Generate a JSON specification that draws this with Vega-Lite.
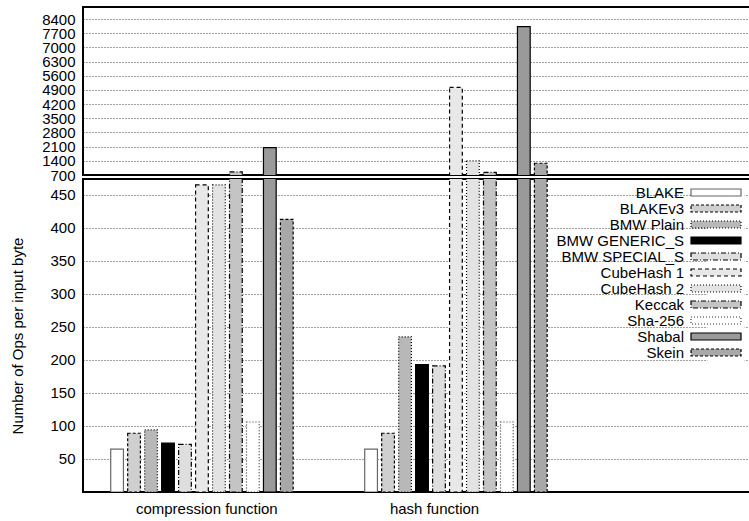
{
  "$schema": "https://vega.github.io/schema/vega-lite/v6.json",
  "padding": {"left": 9, "top": 6, "right": 0, "bottom": 0},
  "background": "white",
  "spacing": 4,
  "bounds": "flush",
  "config": {
    "font": "Liberation Sans",
    "view": {"stroke": "black", "strokeWidth": 2},
    "axis": {
      "labelFont": "Liberation Sans", "labelFontSize": 15, "labelColor": "black",
      "titleFont": "Liberation Sans", "titleFontSize": 15, "titleFontWeight": "normal", "titleColor": "black",
      "grid": true, "gridColor": "black", "gridDash": [1, 2], "gridWidth": 1, "gridOpacity": 0.75,
      "ticks": false, "domain": false, "labelPadding": 8, "labelOverlap": false
    }
  },
  "data": {"values": [
    {"group": "compression function", "series": "BLAKE", "value": 65},
    {"group": "compression function", "series": "BLAKEv3", "value": 89},
    {"group": "compression function", "series": "BMW Plain", "value": 94},
    {"group": "compression function", "series": "BMW GENERIC_S", "value": 74},
    {"group": "compression function", "series": "BMW SPECIAL_S", "value": 72},
    {"group": "compression function", "series": "CubeHash 1", "value": 465},
    {"group": "compression function", "series": "CubeHash 2", "value": 465},
    {"group": "compression function", "series": "Keccak", "value": 850},
    {"group": "compression function", "series": "Sha-256", "value": 106},
    {"group": "compression function", "series": "Shabal", "value": 2050},
    {"group": "compression function", "series": "Skein", "value": 413},
    {"group": "hash function", "series": "BLAKE", "value": 65},
    {"group": "hash function", "series": "BLAKEv3", "value": 89},
    {"group": "hash function", "series": "BMW Plain", "value": 235},
    {"group": "hash function", "series": "BMW GENERIC_S", "value": 193},
    {"group": "hash function", "series": "BMW SPECIAL_S", "value": 191},
    {"group": "hash function", "series": "CubeHash 1", "value": 5030},
    {"group": "hash function", "series": "CubeHash 2", "value": 1400},
    {"group": "hash function", "series": "Keccak", "value": 830},
    {"group": "hash function", "series": "Sha-256", "value": 106},
    {"group": "hash function", "series": "Shabal", "value": 8030},
    {"group": "hash function", "series": "Skein", "value": 1280}
  ]},
  "resolve": {"scale": {"fill": "independent", "stroke": "independent", "strokeDash": "independent"}},
  "vconcat": [
    {
      "width": 668, "height": 168,
      "mark": {"type": "bar", "clip": true, "strokeWidth": 1.2},
      "encoding": {
        "x": {"field": "group", "type": "nominal", "scale": {"paddingInner": 0.265, "paddingOuter": 0.4475, "align": 0.1126}, "axis": null},
        "xOffset": {"field": "series", "type": "nominal", "scale": {"domain": ["BLAKE", "BLAKEv3", "BMW Plain", "BMW GENERIC_S", "BMW SPECIAL_S", "CubeHash 1", "CubeHash 2", "Keccak", "Sha-256", "Shabal", "Skein"], "paddingInner": 0.25, "paddingOuter": 0.125}},
        "y": {"field": "value", "type": "quantitative", "scale": {"domain": [700, 9000], "nice": false, "zero": false}, "axis": {"values": [700, 1400, 2100, 2800, 3500, 4200, 4900, 5600, 6300, 7000, 7700, 8400], "format": "d", "title": null}},
        "fill": {"field": "series", "type": "nominal", "legend": null, "scale": {"domain": ["BLAKE", "BLAKEv3", "BMW Plain", "BMW GENERIC_S", "BMW SPECIAL_S", "CubeHash 1", "CubeHash 2", "Keccak", "Sha-256", "Shabal", "Skein"], "range": ["#ffffff", "#cfcfcf", "#b8b8b8", "#000000", "#dedede", "#e8e8e8", "#e3e3e3", "#c4c4c4", "#ffffff", "#9a9a9a", "#a8a8a8"]}},
        "stroke": {"field": "series", "type": "nominal", "legend": null, "scale": {"domain": ["BLAKE", "BLAKEv3", "BMW Plain", "BMW GENERIC_S", "BMW SPECIAL_S", "CubeHash 1", "CubeHash 2", "Keccak", "Sha-256", "Shabal", "Skein"], "range": ["#666666", "#000000", "#000000", "#000000", "#000000", "#000000", "#000000", "#000000", "#333333", "#000000", "#000000"]}},
        "strokeDash": {"field": "series", "type": "nominal", "legend": null, "scale": {"domain": ["BLAKE", "BLAKEv3", "BMW Plain", "BMW GENERIC_S", "BMW SPECIAL_S", "CubeHash 1", "CubeHash 2", "Keccak", "Sha-256", "Shabal", "Skein"], "range": [[1, 0], [3, 2], [1, 2], [1, 0], [5, 2, 1, 2], [4, 3], [1, 2], [5, 2, 1, 2], [1, 2], [1, 0], [3, 2]]}}
      }
    },
    {
      "width": 668, "height": 313,
      "mark": {"type": "bar", "clip": true, "strokeWidth": 1.2},
      "encoding": {
        "x": {"field": "group", "type": "nominal", "scale": {"paddingInner": 0.265, "paddingOuter": 0.4475, "align": 0.1126}, "axis": {"title": null, "labelAngle": 0, "grid": false, "labelPadding": 9, "labelAlign": "left", "labelOffset": -66}},
        "xOffset": {"field": "series", "type": "nominal", "scale": {"domain": ["BLAKE", "BLAKEv3", "BMW Plain", "BMW GENERIC_S", "BMW SPECIAL_S", "CubeHash 1", "CubeHash 2", "Keccak", "Sha-256", "Shabal", "Skein"], "paddingInner": 0.25, "paddingOuter": 0.125}},
        "y": {"field": "value", "type": "quantitative", "scale": {"domain": [0, 474], "nice": false}, "axis": {"values": [50, 100, 150, 200, 250, 300, 350, 400, 450], "title": "Number of Ops per input byte", "titlePadding": 24}},
        "fill": {"field": "series", "type": "nominal", "title": null, "scale": {"domain": ["BLAKE", "BLAKEv3", "BMW Plain", "BMW GENERIC_S", "BMW SPECIAL_S", "CubeHash 1", "CubeHash 2", "Keccak", "Sha-256", "Shabal", "Skein"], "range": ["#ffffff", "#cfcfcf", "#b8b8b8", "#000000", "#dedede", "#e8e8e8", "#e3e3e3", "#c4c4c4", "#ffffff", "#9a9a9a", "#a8a8a8"]},
          "legend": {"orient": "none", "legendX": 624.5, "legendY": 5, "symbolType": "M-4.545,-0.636H4.545V0.636H-4.545Z", "symbolSize": 121, "symbolStrokeWidth": 1.2, "labelAlign": "right", "labelOffset": -39.5, "rowPadding": 0, "labelFont": "Liberation Sans", "labelFontSize": 15, "labelColor": "black", "labelLimit": 300, "fillColor": "white", "padding": 1}},
        "stroke": {"field": "series", "type": "nominal", "title": null, "scale": {"domain": ["BLAKE", "BLAKEv3", "BMW Plain", "BMW GENERIC_S", "BMW SPECIAL_S", "CubeHash 1", "CubeHash 2", "Keccak", "Sha-256", "Shabal", "Skein"], "range": ["#666666", "#000000", "#000000", "#000000", "#000000", "#000000", "#000000", "#000000", "#333333", "#000000", "#000000"]}},
        "strokeDash": {"field": "series", "type": "nominal", "title": null, "scale": {"domain": ["BLAKE", "BLAKEv3", "BMW Plain", "BMW GENERIC_S", "BMW SPECIAL_S", "CubeHash 1", "CubeHash 2", "Keccak", "Sha-256", "Shabal", "Skein"], "range": [[1, 0], [3, 2], [1, 2], [1, 0], [5, 2, 1, 2], [4, 3], [1, 2], [5, 2, 1, 2], [1, 2], [1, 0], [3, 2]]}}
      }
    }
  ]
}
